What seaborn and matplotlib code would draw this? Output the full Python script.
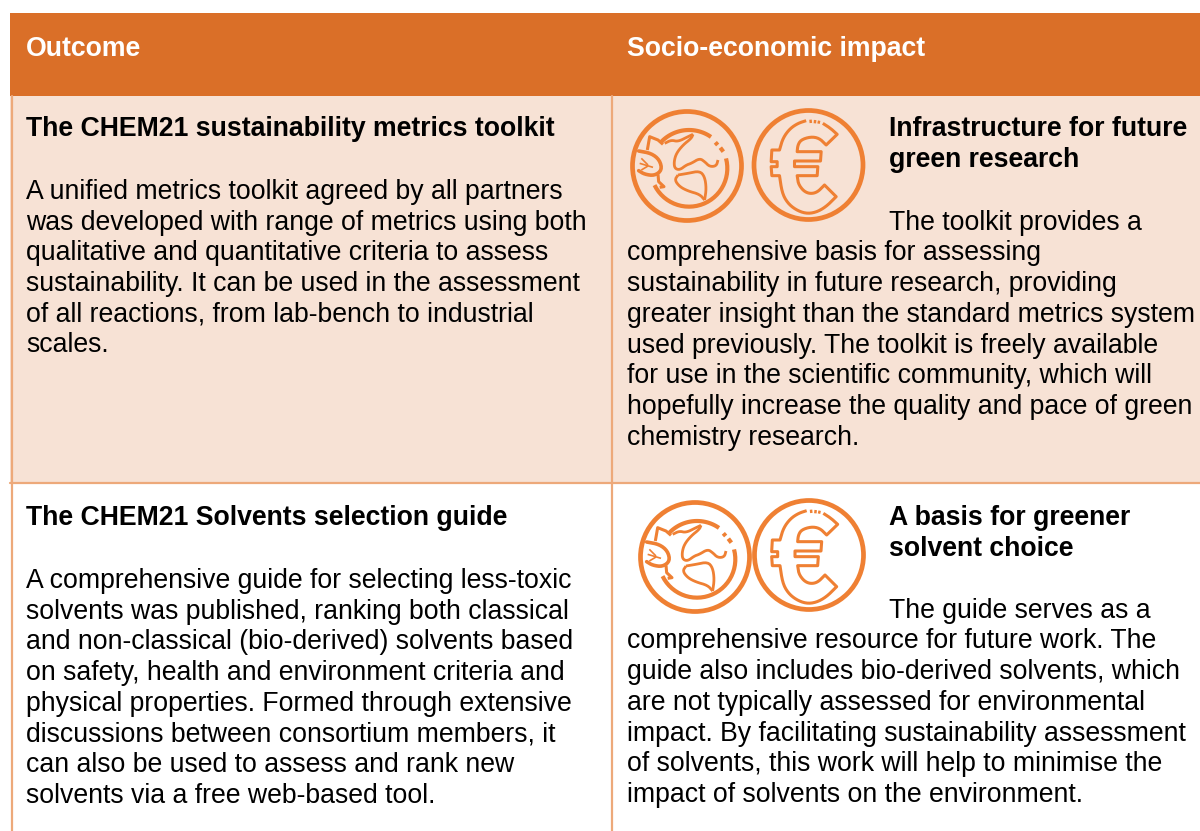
import numpy as np
import seaborn as sns
import matplotlib.pyplot as plt
from matplotlib.patches import Rectangle, Circle

# table text
header_left = 'Outcome'
header_right = 'Socio-economic impact'
title_1 = 'The CHEM21 sustainability metrics toolkit'
body_1 = ['A unified metrics toolkit agreed by all partners',
          'was developed with range of metrics using both',
          'qualitative and quantitative criteria to assess',
          'sustainability. It can be used in the assessment',
          'of all reactions, from lab-bench to industrial',
          'scales.']
impact_title_1 = ['Infrastructure for future', 'green research']
impact_first_1 = 'The toolkit provides a'
impact_body_1 = ['comprehensive basis for assessing',
                 'sustainability in future research, providing',
                 'greater insight than the standard metrics system',
                 'used previously. The toolkit is freely available',
                 'for use in the scientific community, which will',
                 'hopefully increase the quality and pace of green',
                 'chemistry research.']
title_2 = 'The CHEM21 Solvents selection guide'
body_2 = ['A comprehensive guide for selecting less-toxic',
          'solvents was published, ranking both classical',
          'and non-classical (bio-derived) solvents based',
          'on safety, health and environment criteria and',
          'physical properties. Formed through extensive',
          'discussions between consortium members, it',
          'can also be used to assess and rank new',
          'solvents via a free web-based tool.']
impact_title_2 = ['A basis for greener', 'solvent choice']
impact_first_2 = 'The guide serves as a'
impact_body_2 = ['comprehensive resource for future work. The',
                 'guide also includes bio-derived solvents, which',
                 'are not typically assessed for environmental',
                 'impact. By facilitating sustainability assessment',
                 'of solvents, this work will help to minimise the',
                 'impact of solvents on the environment.']

HEAD = '#DA6F28'
FILL = '#F7E2D5'
EDGE = '#EDA97A'
ICON = '#EF8033'
FS = 19.15
STEP = 30.7

sns.set_theme(style='white')
plt.rcParams['font.family'] = ['Liberation Sans', 'DejaVu Sans']

fig = plt.figure(figsize=(12, 8.31), dpi=100)
ax = fig.add_axes([0, 0, 1, 1])
ax.set_xlim(0, 1200)
ax.set_ylim(831, 0)
ax.axis('off')

# backgrounds and borders
ax.add_patch(Rectangle((10, 13), 1190, 83, color=HEAD, lw=0))
ax.add_patch(Rectangle((10, 96), 1190, 386, color=FILL, lw=0))
ax.plot([11.5, 11.5], [96, 831], color=EDGE, lw=1.6)
ax.plot([612, 612], [96, 831], color=EDGE, lw=1.6)
ax.plot([10, 1200], [483, 483], color=EDGE, lw=1.6)


def lines(x, y, rows, **kw):
    for i, row in enumerate(rows):
        ax.text(x, y + i * STEP, row, fontsize=FS, color='black', va='baseline', **kw)


ax.text(26, 56, header_left, fontsize=FS, color='white', weight='bold', va='baseline')
ax.text(627, 56, header_right, fontsize=FS, color='white', weight='bold', va='baseline')

lines(26, 136, [title_1], weight='bold')
lines(26, 199, body_1)
lines(889, 136, impact_title_1, weight='bold')
lines(889, 230, [impact_first_1])
lines(627, 260.5, impact_body_1)

lines(26, 525, [title_2], weight='bold')
lines(26, 588, body_2)
lines(889, 525, impact_title_2, weight='bold')
lines(889, 618, [impact_first_2])
lines(627, 648.5, impact_body_2)


def arc(cx, cy, r, a0, a1, n=30):
    t = np.radians(np.linspace(a0, a1, n))
    return np.column_stack([cx + r * np.cos(t), cy + r * np.sin(t)])


def smooth(pts, rounds=3):
    # corner cutting, ends stay where they are
    p = np.asarray(pts, dtype=float)
    for _ in range(rounds):
        q = np.empty((2 * len(p), 2))
        q[0::2] = 0.75 * p + 0.25 * np.roll(p, -1, axis=0)
        q[1::2] = 0.25 * p + 0.75 * np.roll(p, -1, axis=0)
        p = np.vstack([p[0], q[:-2], p[-1]])
    return p


def stroke(pts, ox, oy, zero, lw, z=2):
    # pts come from a 3x sketch of the icon
    p = (np.asarray(pts, dtype=float) - zero) / 3
    ax.plot(ox + p[:, 0], oy + p[:, 1], color=ICON, lw=lw, solid_capstyle='butt',
            solid_joinstyle='round', zorder=z)


def globe(ox, oy, bg):
    z = (187, 183)
    ax.add_patch(Circle((ox, oy), 54.5, fill=False, ec=ICON, lw=3.4))
    stroke(arc(193, 190, 115, -137, -55), ox, oy, z, 3)
    stroke(arc(193, 190, 115, -15, 154), ox, oy, z, 3)
    stroke([(272, 112), (279, 120)], ox, oy, z, 3)
    stroke([(287, 128), (296, 140)], ox, oy, z, 3)
    stroke(smooth([(120, 115), (140, 105), (160, 110), (190, 95), (205, 88)]), ox, oy, z, 2)
    stroke(smooth([(205, 88), (200, 100), (175, 120), (155, 145), (148, 170), (150, 190), (165, 195),
                   (185, 180), (200, 175), (225, 160), (240, 170), (255, 185), (275, 183), (280, 165)], 2),
           ox, oy, z, 2)
    stroke(smooth([(160, 210), (190, 205), (225, 198), (240, 215), (245, 250), (240, 285)], 2), ox, oy, z, 2)
    stroke(smooth([(240, 285), (225, 268), (190, 258), (165, 245), (150, 225), (160, 210)], 2), ox, oy, z, 2)
    # leaves
    leaf = smooth([(42, 138), (80, 145), (105, 165), (112, 195), (90, 212), (60, 208), (42, 197)], 2)
    p = (leaf - z) / 3
    ax.fill(ox + p[:, 0], oy + p[:, 1], color=bg, lw=0, zorder=3)
    ax.plot(ox + p[:, 0], oy + p[:, 1], color=ICON, lw=2.6, zorder=4)
    for seg in ([(45, 175), (85, 187)], [(50, 160), (70, 180)], [(50, 195), (70, 183)]):
        stroke(seg, ox, oy, z, 1.2, z=4)
    stroke([(68, 135), (75, 95), (100, 105), (115, 118)], ox, oy, z, 2.2)
    stroke([(100, 208), (102, 230), (118, 245), (105, 247)], ox, oy, z, 2.2)


def euro(ox, oy):
    z = (182, 180)
    ax.add_patch(Circle((ox, oy), 54.5, fill=False, ec=ICON, lw=3.4))
    parts = [smooth([(225, 55), (248, 70), (268, 88)], 1),
             [(268, 88), (235, 120)],
             smooth([(235, 120), (215, 100), (190, 95), (160, 104), (150, 120), (148, 140)]),
             [(148, 140), (220, 140), (218, 168), (140, 168), (140, 185), (210, 185), (208, 212), (148, 212)],
             smooth([(148, 212), (152, 240), (175, 265), (205, 265), (230, 240)]),
             [(230, 240), (265, 275)],
             smooth([(265, 275), (235, 305), (205, 322), (175, 326), (145, 315), (120, 295), (103, 265), (95, 212)]),
             [(95, 212), (72, 212), (70, 185), (88, 185), (88, 170), (70, 170), (72, 135), (95, 135)],
             smooth([(95, 135), (105, 100), (125, 72), (150, 55), (175, 47)])]
    stroke(np.vstack(parts), ox, oy, z, 2.2)
    stroke([(188, 44), (189, 54)], ox, oy, z, 1.8)
    stroke([(202, 45), (201, 55)], ox, oy, z, 1.8)
    stroke([(214, 47), (212, 56)], ox, oy, z, 1.8)


globe(687, 166, FILL)
euro(808.5, 165)
globe(695, 557, 'white')
euro(809, 555)

fig.savefig('out.png', dpi=100)
